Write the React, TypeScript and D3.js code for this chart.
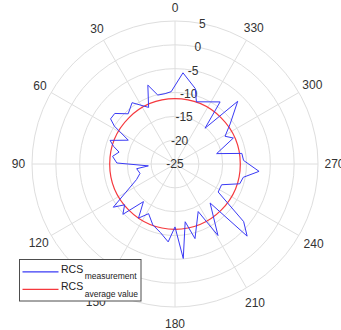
import * as d3 from "d3";
import React, { useRef, useEffect } from "react";

// angular ticks (deg, counter-clockwise from top) and radial ticks (dB)
const angleTicks = [0, 30, 60, 90, 120, 150, 180, 210, 240, 270, 300, 330];
const radialTicks = [-25, -20, -15, -10, -5, 0, 5];

const measAngles = [
  3, 8, 14, 19, 25, 35, 43, 50, 55, 58, 63, 70, 74, 78, 83, 89, 94, 97, 105,
  112, 125, 129, 134, 140, 146, 152, 160, 168, 175, 180, 185, 190, 195, 206,
  211, 222, 225, 230, 237, 246, 253, 259, 265, 273, 279, 284, 294, 299, 306,
  315, 320, 324, 341, 345, 355,
];
const measValues = [
  -9.8, -10.1, -10.1, -7.5, -11.9, -9.3, -10.6, -8.5, -8.5, -10.0, -14.0,
  -10.5, -11.6, -13.0, -11.8, -12.8, -19.4, -16.9, -17.4, -16.3, -9.2, -11.4,
  -9.8, -14.7, -11.3, -13.2, -11.4, -10.3, -8.6, -11.8, -5.1, -12.7, -8.8,
  -13.9, -7.5, -14.0, -3.6, -6.2, -14.2, -14.3, -10.8, -10.4, -7.3, -10.6,
  -10.8, -16.0, -11.6, -13.0, -10.7, -6.4, -15.2, -8.9, -11.2, -8.6, -5.8,
];
const averageValue = -11.3;

const legendLabels = [
  { main: "RCS", sub: "measurement", color: "#3a3af5" },
  { main: "RCS", sub: "average value", color: "#f5383d" },
];

export default function App() {
  const svgRef = useRef<SVGSVGElement>(null);

  useEffect(() => {
    if (!svgRef.current) return;
    const width = 341;
    const height = 330;
    const cx = 175;
    const cy = 164;
    const outer = 143;
    const font = "Liberation Sans, Arial, sans-serif";
    const textColor = "#333333";
    const gridColor = "#dedede";

    const r = d3.scaleLinear([-25, 5], [0, outer]);
    const rad = (deg: number) => (deg * Math.PI) / 180;
    // labels sit a little further out on the right/bottom side
    const labelR = (deg: number) =>
      158 + 1.5 * (-Math.sin(rad(deg)) + -Math.cos(rad(deg)));

    const svg = d3
      .select(svgRef.current)
      .attr("width", width)
      .attr("height", height)
      .attr("viewBox", [0, 0, width, height]);

    svg.append("rect").attr("width", width).attr("height", height).attr("fill", "#fff");

    const g = svg.append("g").attr("transform", `translate(${cx},${cy})`);

    // rings
    g.selectAll("circle.ring")
      .data(radialTicks.filter((t) => t > -25))
      .join("circle")
      .attr("class", "ring")
      .attr("r", (d) => r(d))
      .attr("fill", "none")
      .attr("stroke", gridColor);

    // spokes
    g.selectAll("line.spoke")
      .data(angleTicks)
      .join("line")
      .attr("class", "spoke")
      .attr("x1", 0)
      .attr("y1", 0)
      .attr("x2", (d) => -outer * Math.sin(rad(d)))
      .attr("y2", (d) => -outer * Math.cos(rad(d)))
      .attr("stroke", gridColor);

    // angle labels
    g.selectAll("text.ang")
      .data(angleTicks)
      .join("text")
      .attr("class", "ang")
      .attr("x", (d) => -labelR(d) * Math.sin(rad(d)))
      .attr("y", (d) => -labelR(d) * Math.cos(rad(d)) + 4.2)
      .attr("text-anchor", "middle")
      .attr("font-family", font)
      .attr("font-size", 12)
      .attr("fill", textColor)
      .text((d) => String(d));

    // radial labels, along a line 11 deg right of top
    const la = rad(11);
    g.selectAll("text.rad")
      .data(radialTicks)
      .join("text")
      .attr("class", "rad")
      .attr("x", (d) => r(d) * Math.sin(la))
      .attr("y", (d) => -r(d) * Math.cos(la) + 4.2)
      .attr("text-anchor", "middle")
      .attr("font-family", font)
      .attr("font-size", 12)
      .attr("fill", textColor)
      .text((d) => String(d));

    // average value
    g.append("circle")
      .attr("r", r(averageValue))
      .attr("fill", "none")
      .attr("stroke", legendLabels[1].color)
      .attr("stroke-width", 1.2);

    // measurement
    const line = d3
      .lineRadial<number>()
      .curve(d3.curveLinearClosed)
      .angle((i) => -rad(measAngles[i]))
      .radius((i) => r(measValues[i]));
    g.append("path")
      .attr("d", line(d3.range(measAngles.length)))
      .attr("fill", "none")
      .attr("stroke", legendLabels[0].color)
      .attr("stroke-width", 1);

    // legend
    const lg = svg.append("g").attr("transform", "translate(19.5,259.5)");
    lg.append("rect")
      .attr("width", 121.5)
      .attr("height", 41.5)
      .attr("fill", "#fff")
      .attr("stroke", "#4d4d4d");
    legendLabels.forEach((d, i) => {
      const y = 12.3 + i * 17.6;
      lg.append("line")
        .attr("x1", 3)
        .attr("x2", 39)
        .attr("y1", y)
        .attr("y2", y)
        .attr("stroke", d.color)
        .attr("stroke-width", 1.2);
      const t = lg
        .append("text")
        .attr("x", 41.5)
        .attr("y", y + 1)
        .attr("font-family", font)
        .attr("font-size", 10.5)
        .attr("fill", "#222");
      t.append("tspan").text(d.main);
      t.append("tspan")
        .attr("dx", 1.5)
        .attr("dy", 6.5)
        .attr("font-size", 8.5)
        .text(d.sub);
    });

    return () => {
      d3.select(svgRef.current).selectAll("*").remove();
    };
  });

  return (
    <svg
      ref={svgRef}
      style={{ position: "absolute", left: 0, top: 0, display: "block" }}
    />
  );
}
